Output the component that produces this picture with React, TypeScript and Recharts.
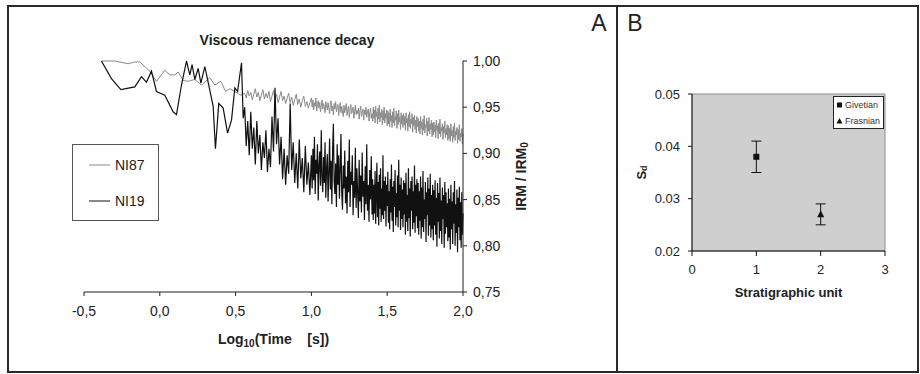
import { LineChart, Line, XAxis, YAxis, Legend, ComposedChart, Scatter, ErrorBar, ReferenceArea } from 'recharts'

const FONT = '"Liberation Sans", Arial, Helvetica, sans-serif'
const INK = '#222'

// ---- panel A: viscous remanence decay (IRM/IRM0 values stored x1000) ----
const seriesNames = ['NI87', 'NI19']

const sparseLogT19 = [-0.385, -0.319, -0.257, -0.165, -0.121, -0.088, -0.055, -0.022, 0.033, 0.088, 0.11, 0.143, 0.176, 0.198, 0.213, 0.231, 0.253, 0.271, 0.297, 0.323, 0.352, 0.367, 0.389, 0.418, 0.447, 0.473, 0.495, 0.513, 0.539, 0.55]
const sparseNI19 = [1000, 981, 969, 972, 983, 977, 989, 967, 963, 945, 942, 974, 1000, 985, 996, 980, 992, 976, 994, 974, 951, 905, 954, 949, 922, 936, 971, 967, 998, 938]

const sparseLogT87 = [-0.385, -0.297, -0.209, -0.165, -0.132, -0.066, -0.022, 0.033, 0.066, 0.099, 0.121, 0.154, 0.187, 0.231, 0.275, 0.33, 0.363, 0.403, 0.434, 0.462, 0.495, 0.535]
const sparseNI87 = [1000, 1000, 997, 999, 999, 989, 978, 990, 985, 985, 988, 979, 978, 980, 974, 982, 974, 978, 967, 970, 967, 963]

const denseLogT = [
  0.56, 0.57, 0.58, 0.59, 0.6, 0.61, 0.62, 0.63, 0.64, 0.65,
  0.66, 0.67, 0.68, 0.69, 0.7, 0.71, 0.72, 0.73, 0.74, 0.75,
  0.76, 0.77, 0.78, 0.79, 0.8, 0.81, 0.82, 0.83, 0.84, 0.85,
  0.86, 0.87, 0.88, 0.89, 0.9, 0.91, 0.92, 0.93, 0.94, 0.95,
  0.96, 0.97, 0.98, 0.99, 1.0,
  1.005, 1.01, 1.015, 1.02, 1.025, 1.03, 1.035, 1.04, 1.045, 1.05, 1.055, 1.06, 1.065, 1.07, 1.075, 1.08, 1.085, 1.09, 1.095, 1.1,
  1.105, 1.11, 1.115, 1.12, 1.125, 1.13, 1.135, 1.14, 1.145, 1.15, 1.155, 1.16, 1.165, 1.17, 1.175, 1.18, 1.185, 1.19, 1.195, 1.2,
  1.205, 1.21, 1.215, 1.22, 1.225, 1.23, 1.235, 1.24, 1.245, 1.25, 1.255, 1.26, 1.265, 1.27, 1.275, 1.28, 1.285, 1.29, 1.295, 1.3,
  1.305, 1.31, 1.315, 1.32, 1.325, 1.33, 1.335, 1.34, 1.345, 1.35, 1.355, 1.36, 1.365, 1.37, 1.375, 1.38, 1.385, 1.39, 1.395, 1.4,
  1.404, 1.408, 1.412, 1.416, 1.42, 1.424, 1.428, 1.432, 1.436, 1.44, 1.444, 1.448, 1.452, 1.456, 1.46, 1.464, 1.468, 1.472, 1.476, 1.48, 1.484, 1.488, 1.492, 1.496, 1.5,
  1.504, 1.508, 1.512, 1.516, 1.52, 1.524, 1.528, 1.532, 1.536, 1.54, 1.544, 1.548, 1.552, 1.556, 1.56, 1.564, 1.568, 1.572, 1.576, 1.58, 1.584, 1.588, 1.592, 1.596, 1.6,
  1.604, 1.608, 1.612, 1.616, 1.62, 1.624, 1.628, 1.632, 1.636, 1.64, 1.644, 1.648, 1.652, 1.656, 1.66, 1.664, 1.668, 1.672, 1.676, 1.68, 1.684, 1.688, 1.692, 1.696, 1.7,
  1.704, 1.708, 1.712, 1.716, 1.72, 1.724, 1.728, 1.732, 1.736, 1.74, 1.744, 1.748, 1.752, 1.756, 1.76, 1.764, 1.768, 1.772, 1.776, 1.78, 1.784, 1.788, 1.792, 1.796, 1.8,
  1.804, 1.808, 1.812, 1.816, 1.82, 1.824, 1.828, 1.832, 1.836, 1.84, 1.844, 1.848, 1.852, 1.856, 1.86, 1.864, 1.868, 1.872, 1.876, 1.88, 1.884, 1.888, 1.892, 1.896, 1.9,
  1.904, 1.908, 1.912, 1.916, 1.92, 1.924, 1.928, 1.932, 1.936, 1.94, 1.944, 1.948, 1.952, 1.956, 1.96, 1.964, 1.968, 1.972, 1.976, 1.98, 1.984, 1.988, 1.992, 1.996, 2.0,
]

const denseNI19 = [
  950, 908, 935, 898, 945, 905, 928, 888, 935, 900,
  920, 882, 912, 895, 925, 880, 905, 885, 940, 902,
  971, 910, 938, 888, 918, 872, 905, 866, 898, 878,
  954, 882, 912, 868, 900, 862, 915, 873, 895, 858,
  908, 866, 890, 855, 898,
  862, 905, 871, 918, 856, 893, 878, 910, 849, 887, 902, 865, 925, 874, 858, 896, 868, 912, 852, 884,
  899, 848, 880, 916, 861, 892, 845, 905, 932, 870, 856, 889, 842, 910, 866, 898, 851, 883, 921, 858,
  839, 887, 862, 903, 846, 875, 835, 892, 858, 915, 842, 880, 866, 898, 833, 870, 852, 906, 841, 884,
  857, 830, 893, 848, 876, 836, 901, 853, 870, 828, 886, 845, 910, 838, 866, 826, 882, 850, 897, 834,
  872, 828, 866, 835, 881, 824, 858, 890, 831, 869, 822, 877, 840, 884, 826, 862, 833, 898, 829, 870, 838, 875, 821, 866, 843,
  880, 825, 859, 818, 872, 836, 888, 827, 864, 815, 870, 842, 882, 822, 857, 831, 876, 820, 893, 838, 866, 817, 874, 829, 861,
  820, 871, 834, 868, 812, 879, 826, 855, 816, 884, 830, 862, 810, 870, 838, 875, 818, 859, 825, 887, 814, 866, 832, 872, 819,
  868, 812, 859, 827, 875, 808, 863, 820, 881, 815, 850, 829, 869, 804, 858, 833, 874, 811, 862, 822, 878, 809, 855, 818, 866,
  806, 860, 822, 871, 812, 852, 799, 868, 826, 857, 808, 874, 816, 849, 802, 863, 829, 855, 798, 869, 813, 858, 820, 846, 805,
  862, 809, 851, 796, 866, 818, 848, 802, 858, 824, 870, 800, 845, 814, 861, 793, 852, 820, 864, 806, 847, 798, 858, 812, 835,
]

const denseNI87 = [
  965, 960, 968, 962, 966, 958, 964, 970, 961, 966,
  957, 963, 969, 959, 965, 960, 967, 956, 962, 968,
  958, 964, 955, 961, 967, 957, 962, 954, 960, 965,
  955, 961, 952, 958, 964, 953, 959, 950, 957, 962,
  951, 956, 949, 955, 960,
  950, 958, 947, 955, 951, 960, 946, 953, 957, 949, 955, 945, 952, 958, 948, 954, 950, 944, 956, 951,
  947, 955, 949, 943, 953, 957, 946, 951, 942, 954, 948, 956, 945, 950, 953, 941, 949, 955, 944, 951,
  946, 940, 952, 944, 949, 954, 941, 947, 951, 939, 948, 953, 943, 946, 950, 938, 945, 952, 942, 947,
  943, 949, 937, 946, 951, 940, 944, 948, 936, 947, 942, 950, 939, 945, 948, 935, 944, 949, 938, 943,
  935, 950, 938, 947, 933, 951, 940, 945, 932, 949, 937, 952, 934, 944, 939, 948, 931, 946, 936, 950, 933, 943, 938, 947, 930,
  946, 932, 944, 929, 948, 935, 941, 928, 945, 933, 949, 930, 940, 936, 946, 927, 943, 931, 947, 934, 939, 926, 944, 932, 941,
  928, 943, 931, 940, 925, 944, 933, 938, 924, 942, 929, 945, 927, 937, 932, 943, 923, 939, 930, 941, 926, 936, 922, 940, 929,
  938, 924, 935, 921, 940, 927, 934, 920, 937, 925, 941, 922, 931, 928, 938, 919, 935, 924, 939, 921, 932, 926, 936, 918, 933,
  920, 934, 923, 931, 917, 936, 925, 930, 916, 933, 921, 937, 918, 928, 924, 932, 915, 929, 922, 935, 917, 927, 920, 931, 914,
  930, 916, 927, 913, 932, 919, 925, 912, 929, 917, 933, 914, 924, 920, 928, 911, 926, 915, 931, 913, 922, 918, 927, 910, 921,
]

const xTicksA = [-0.5, 0, 0.5, 1, 1.5, 2]
const yTicksA = [0.75, 0.8, 0.85, 0.9, 0.95, 1]

// ---- panel B: S_d per stratigraphic unit ----
const unitNames = ['Givetian', 'Frasnian']
const units = [1, 2]
const sdValues = [0.038, 0.027]
const sdErrors = [0.003, 0.002]
const xTicksB = [0, 1, 2, 3]
const yTicksB = [0.02, 0.03, 0.04, 0.05]

const toPoints = (xs: number[], ys: number[]) => xs.map((x, i) => ({ x, y: ys[i] / 1000 }))
const ni87 = [...toPoints(sparseLogT87, sparseNI87), ...toPoints(denseLogT, denseNI87)]
const ni19 = [...toPoints(sparseLogT19, sparseNI19), ...toPoints(denseLogT, denseNI19)]
const unitData = units.map((u, i) => [{ x: u, y: sdValues[i], err: sdErrors[i] }])

const comma = (v: number, d: number) => v.toFixed(d).replace('.', ',')

// recharts sorts legend items by name; put them back in drawing order
// eslint-disable-next-line @typescript-eslint/no-explicit-any
const inOrder = (payload: any[] | undefined, names: string[]) =>
  names.map((n) => (payload || []).find((e) => e.value === n)).filter(Boolean)

// eslint-disable-next-line @typescript-eslint/no-explicit-any
const xLabelA = (p: any) => {
  const { x, y, width } = p.viewBox
  return (
    <text x={x + width / 2} y={y + 52} textAnchor="middle" fontFamily={FONT} fontSize={14} fontWeight="bold" fill={INK}>
      Log<tspan fontSize={10} dy={3}>10</tspan>
      <tspan dy={-3}>{'(Time\u00a0\u00a0\u00a0\u00a0[s])'}</tspan>
    </text>
  )
}

// eslint-disable-next-line @typescript-eslint/no-explicit-any
const yLabelA = (p: any) => {
  const { x, y, height } = p.viewBox
  const cx = x + 58
  const cy = y + height / 2
  return (
    <text x={cx} y={cy} transform={`rotate(-90 ${cx} ${cy})`} textAnchor="middle" dominantBaseline="central" fontFamily={FONT} fontSize={14} fontWeight="bold" fill={INK}>
      IRM / IRM<tspan fontSize={10} dy={3}>0</tspan>
    </text>
  )
}

// eslint-disable-next-line @typescript-eslint/no-explicit-any
const xLabelB = (p: any) => {
  const { x, y, width } = p.viewBox
  return (
    <text x={x + width / 2} y={y + 46} textAnchor="middle" fontFamily={FONT} fontSize={13} fontWeight="bold" fill={INK}>
      Stratigraphic unit
    </text>
  )
}

// eslint-disable-next-line @typescript-eslint/no-explicit-any
const yLabelB = (p: any) => {
  const { x, y, height } = p.viewBox
  const cx = x - 11
  const cy = y + height / 2
  return (
    <text x={cx} y={cy} transform={`rotate(-90 ${cx} ${cy})`} textAnchor="middle" dominantBaseline="central" fontFamily={FONT} fontSize={13} fontWeight="bold" fill={INK}>
      S<tspan fontSize={9} dy={3}>d</tspan>
    </text>
  )
}

// eslint-disable-next-line @typescript-eslint/no-explicit-any
const legendA = (props: any) => (
  <div style={{ width: 87, height: 77, boxSizing: 'border-box', border: '1px solid #555', background: '#fff' }}>
    <svg width={85} height={75}>
      {/* eslint-disable-next-line @typescript-eslint/no-explicit-any */}
      {inOrder(props.payload, seriesNames).map((e: any, i: number) => (
        <g key={e.value}>
          <line x1={16} x2={37} y1={20 + i * 36} y2={20 + i * 36} stroke={e.color} strokeWidth={1} />
          <text x={42} y={20 + i * 36} dominantBaseline="central" fontFamily={FONT} fontSize={14} fill={INK}>{e.value}</text>
        </g>
      ))}
    </svg>
  </div>
)

// eslint-disable-next-line @typescript-eslint/no-explicit-any
const squareShape = (p: any) => <rect x={p.cx - 3} y={p.cy - 3} width={6} height={6} fill="#111" />
// eslint-disable-next-line @typescript-eslint/no-explicit-any
const triangleShape = (p: any) => (
  <polygon points={`${p.cx},${p.cy - 4} ${p.cx + 3.5},${p.cy + 3} ${p.cx - 3.5},${p.cy + 3}`} fill="#111" />
)

// eslint-disable-next-line @typescript-eslint/no-explicit-any
const legendB = (props: any) => (
  <div style={{ width: 51, height: 33, boxSizing: 'border-box', border: '1px solid #222', background: '#fff' }}>
    <svg width={49} height={31}>
      {/* eslint-disable-next-line @typescript-eslint/no-explicit-any */}
      {inOrder(props.payload, unitNames).map((e: any, i: number) => {
        const cy = 8 + i * 16
        return (
          <g key={e.value}>
            {i === 0 ? (
              <rect x={3} y={cy - 2.5} width={5} height={5} fill="#111" />
            ) : (
              <polygon points={`5.5,${cy - 3} 8.5,${cy + 2.5} 2.5,${cy + 2.5}`} fill="#111" />
            )}
            <text x={11} y={cy} dominantBaseline="central" fontFamily={FONT} fontSize={9} fill="#333">{e.value}</text>
          </g>
        )
      })}
    </svg>
  </div>
)

export default function App() {
  return (
    <div style={{ position: 'absolute', left: 0, top: 0, width: 920, height: 374, background: '#fff' }}>
      {/* panel frames, letters, title */}
      <svg width={920} height={374} style={{ position: 'absolute', left: 0, top: 0 }}>
        <rect x={8} y={6} width={910} height={366} fill="none" stroke="#2a2a2a" strokeWidth={2} />
        <line x1={617} y1={6} x2={617} y2={372} stroke="#2a2a2a" strokeWidth={2} />
        <text x={599} y={31} textAnchor="middle" fontFamily={FONT} fontSize={23} fill={INK}>A</text>
        <text x={635} y={31} textAnchor="middle" fontFamily={FONT} fontSize={23} fill={INK}>B</text>
        <text x={287} y={45} textAnchor="middle" fontFamily={FONT} fontSize={14} fontWeight="bold" fill={INK}>
          Viscous remanence decay
        </text>
      </svg>

      <div style={{ position: 'absolute', left: 0, top: 0 }}>
        <LineChart width={620} height={374} margin={{ top: 61, right: 97, bottom: 52, left: 84 }}>
          <XAxis
            type="number"
            dataKey="x"
            domain={[-0.5, 2]}
            ticks={xTicksA}
            interval={0}
            tickFormatter={(v: number) => comma(v, 1)}
            tick={{ fontSize: 14, fill: INK, fontFamily: FONT }}
            tickSize={4}
            tickMargin={10}
            axisLine={{ stroke: INK }}
            tickLine={{ stroke: INK }}
            height={30}
            label={xLabelA}
          />
          <YAxis
            type="number"
            orientation="right"
            domain={[0.75, 1]}
            ticks={yTicksA}
            interval={0}
            tickFormatter={(v: number) => comma(v, 2)}
            tick={{ fontSize: 14, fill: INK, fontFamily: FONT }}
            tickSize={4}
            tickMargin={6}
            axisLine={{ stroke: INK }}
            tickLine={{ stroke: INK }}
            width={60}
            label={yLabelA}
          />
          <Line data={ni87} dataKey="y" name="NI87" type="linear" stroke="#8a8a8a" strokeWidth={1} dot={false} isAnimationActive={false} />
          <Line data={ni19} dataKey="y" name="NI19" type="linear" stroke="#111" strokeWidth={1.2} dot={false} isAnimationActive={false} />
          <Legend
            layout="vertical"
            align="center"
            verticalAlign="middle"
            content={legendA}
            wrapperStyle={{ left: 72, top: 144, width: 87, height: 77 }}
          />
        </LineChart>
      </div>

      <div style={{ position: 'absolute', left: 620, top: 0 }}>
        <ComposedChart width={300} height={374} margin={{ top: 94, right: 35, bottom: 93, left: 32 }}>
          <XAxis
            type="number"
            dataKey="x"
            domain={[0, 3]}
            ticks={xTicksB}
            interval={0}
            tick={{ fontSize: 13, fill: INK, fontFamily: FONT }}
            tickSize={5}
            tickMargin={9}
            axisLine={{ stroke: '#111' }}
            tickLine={{ stroke: '#111' }}
            height={30}
            label={xLabelB}
          />
          <YAxis
            type="number"
            dataKey="y"
            domain={[0.02, 0.05]}
            ticks={yTicksB}
            interval={0}
            tickFormatter={(v: number) => v.toFixed(2)}
            tick={{ fontSize: 13, fill: INK, fontFamily: FONT }}
            tickSize={4}
            tickMargin={8}
            axisLine={{ stroke: '#111' }}
            tickLine={{ stroke: '#111' }}
            width={40}
            label={yLabelB}
          />
          <ReferenceArea x1={0} x2={3} y1={0.02} y2={0.05} fill="#cfcfcf" fillOpacity={1} stroke="#8c8c8c" strokeWidth={1} />
          {unitData.map((d, i) => (
            <Scatter
              key={unitNames[i]}
              name={unitNames[i]}
              data={d}
              fill="#111"
              shape={i === 0 ? squareShape : triangleShape}
              isAnimationActive={false}
            >
              <ErrorBar dataKey="err" direction="y" width={5} stroke="#111" strokeWidth={1} />
            </Scatter>
          ))}
          <Legend
            layout="vertical"
            align="center"
            verticalAlign="middle"
            content={legendB}
            wrapperStyle={{ left: 213, top: 96, width: 51, height: 33 }}
          />
        </ComposedChart>
      </div>
    </div>
  )
}
